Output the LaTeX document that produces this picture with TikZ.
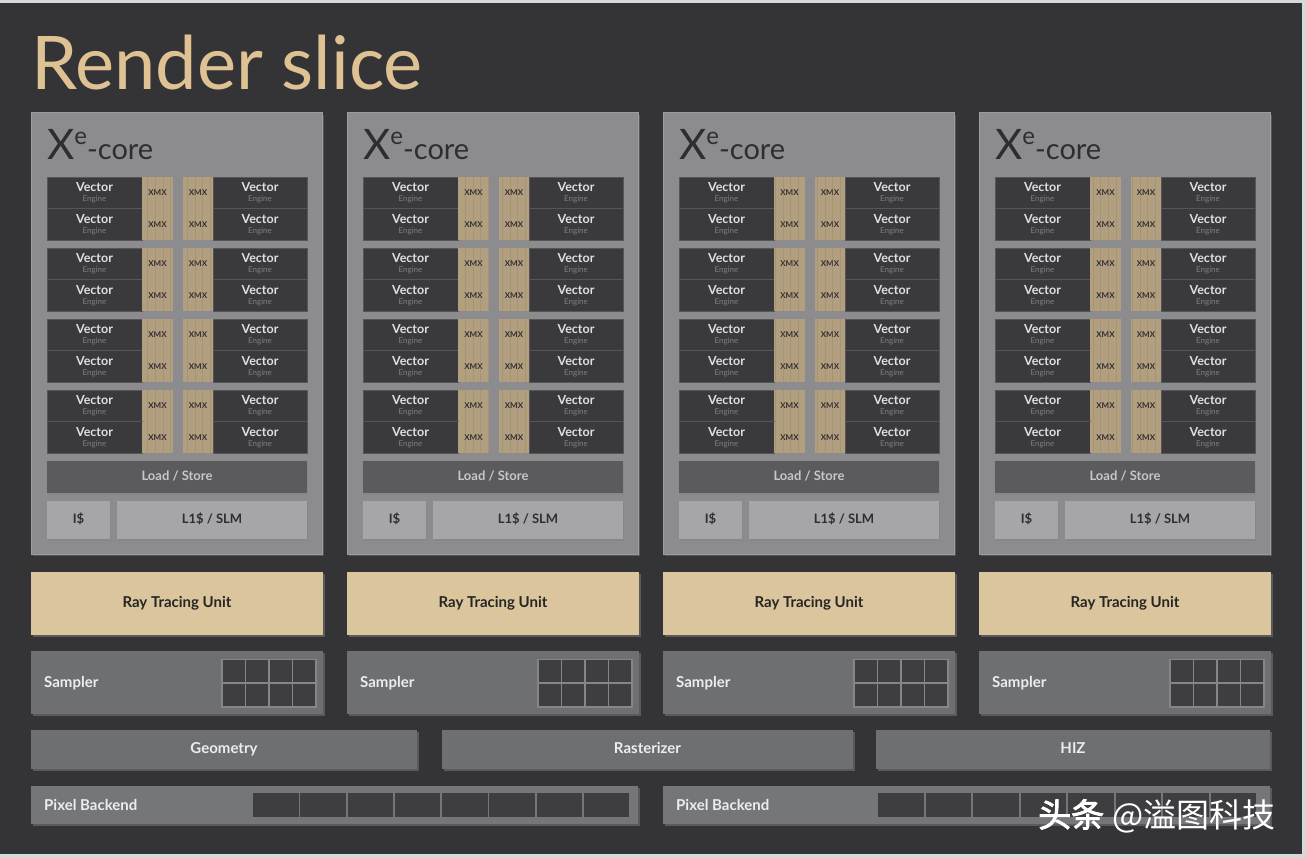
\documentclass[tikz,border=0pt]{standalone}
\usepackage{fontspec}
\setmainfont{Lato}
\newfontfamily\cjk{Noto Sans CJK SC}
\newfontfamily\cjkbold[FakeBold=2.5]{Noto Sans CJK SC}
\usetikzlibrary{shadows}
\definecolor{rim}{HTML}{D8D8D8}
\definecolor{panel}{HTML}{343436}
\definecolor{gold}{HTML}{DFC293}
\definecolor{coregray}{HTML}{8C8C8E}
\definecolor{coreedge}{HTML}{9C9C9E}
\definecolor{coretext}{HTML}{2E2E30}
\definecolor{vecdark}{HTML}{3A3A3D}
\definecolor{vecline}{HTML}{55555A}
\definecolor{xmxtan}{HTML}{B29F80}
\definecolor{xmxline}{HTML}{8E7C60}
\definecolor{lsgray}{HTML}{5B5B5E}
\definecolor{cachegray}{HTML}{A6A6A8}
\definecolor{rttan}{HTML}{DBC59C}
\definecolor{unitgray}{HTML}{6E6F73}
\definecolor{cellgray}{HTML}{3E3E41}
\definecolor{cellgap}{HTML}{85858A}

\begin{document}
\begin{tikzpicture}[x=1pt,y=-1pt,
		box/.style={anchor=north west,inner sep=0pt,outer sep=0pt},
		core/.style={box,fill=coregray,draw=coreedge,line width=1pt,
			drop shadow={shadow xshift=2pt,shadow yshift=-2pt,opacity=.45}},
		vec/.style={box,fill=vecdark,draw=vecline,line width=.6pt,
			minimum width=95,minimum height=31.5,align=center,
			font=\bfseries\fontsize{12.5}{11}\selectfont,text=white!88!black},
		xmx/.style={box,fill=xmxtan,minimum width=31,minimum height=31.5,
			font=\bfseries\fontsize{8}{8}\selectfont,text=coretext},
		loadstore/.style={box,fill=lsgray,minimum width=260,minimum height=32,
			text height=9.5pt,text depth=2.5pt,
			font=\bfseries\fontsize{13}{13}\selectfont,text=white!78!black,
			drop shadow={shadow xshift=1pt,shadow yshift=-1.5pt,opacity=.35}},
		cache/.style={box,fill=cachegray,minimum height=38,
			text height=9.5pt,text depth=2.5pt,
			font=\bfseries\fontsize{13}{13}\selectfont,text=coretext,
			drop shadow={shadow xshift=1pt,shadow yshift=-1.5pt,opacity=.35}},
		rtu/.style={box,fill=rttan,minimum width=292,minimum height=63,
			text height=11pt,text depth=3pt,
			font=\bfseries\fontsize{15}{15}\selectfont,text=black!85,
			drop shadow={shadow xshift=2pt,shadow yshift=-2pt,opacity=.5}},
		unit/.style={box,fill=unitgray,minimum height=39,
			text height=11pt,text depth=3pt,
			font=\bfseries\fontsize{15}{15}\selectfont,text=white!93!black,
			drop shadow={shadow xshift=2pt,shadow yshift=-2pt,opacity=.5}},
		label/.style={anchor=west,inner sep=0pt,
			font=\bfseries\fontsize{15}{15}\selectfont,text=white!93!black},
		cell/.style={box,fill=cellgray}]
	% frame and panel
	\fill[rim] (0,0) rectangle (1306,858);
	\fill[panel] (0,3) rectangle (1302,854);
	\useasboundingbox (0,0) rectangle (1306,858);
	\node[anchor=base west,inner sep=0pt,text=gold,
		font=\fontsize{74}{74}\selectfont] (title) at (31,90) {Render slice};
	\foreach \i in {1,...,4}{
		\pgfmathsetmacro\ox{316*(\i-1)}
		\node[core,minimum width=291,minimum height=441] (core\i) at ({31+\ox},113) {};
		\node[anchor=base west,inner sep=0pt,text=coretext] (xe\i) at ({47+\ox},160)
			{\fontsize{42}{42}\selectfont X\raisebox{15pt}{\fontsize{24}{24}\selectfont e}\fontsize{29}{29}\selectfont-core};
		% vector engines and XMX
		\foreach \g in {0,...,3}{
			\foreach \r in {0,1}{
				\pgfmathsetmacro\oy{177+71*\g+31.5*\r}
				\node[vec] (vl\i\g\r) at ({47+\ox},\oy) {Vector\\[-1pt]{\mdseries\fontsize{8}{8}\selectfont\color{white!50!black}Engine}};
				\node[vec,minimum width=94] (vr\i\g\r) at ({213+\ox},\oy) {Vector\\[-1pt]{\mdseries\fontsize{8}{8}\selectfont\color{white!50!black}Engine}};
				\node[xmx] (xa\i\g\r) at ({142+\ox},\oy) {XMX};
				\node[xmx,minimum width=30] (xb\i\g\r) at ({183+\ox},\oy) {XMX};
				\draw[xmxline,opacity=.3,line width=.4pt,xstep=7.75,ystep=7.875]
					(xa\i\g\r.north west) grid (xa\i\g\r.south east);
				\draw[xmxline,opacity=.3,line width=.4pt,xstep=7.5,ystep=7.875]
					(xb\i\g\r.north west) grid (xb\i\g\r.south east);
			}
		}
		\node[loadstore] (ls\i) at ({47+\ox},461) {Load / Store};
		\node[cache,minimum width=63] (is\i) at ({47+\ox},501) {I\$};
		\node[cache,minimum width=190] (l1\i) at ({117+\ox},501) {L1\$ / SLM};
		\node[rtu] (rt\i) at ({31+\ox},572) {Ray Tracing Unit};
		\node[unit,minimum width=292,minimum height=63] (smp\i) at ({31+\ox},651) {};
		\node[label] (smplabel\i) at ({44+\ox},683) {Sampler};
		\node[box,fill=cellgap,minimum width=96,minimum height=49] (smpgrid\i) at ({221+\ox},658.5) {};
		\foreach \c in {0,...,3}{
			\foreach \r in {0,1}{
				\node[cell,minimum width=22,minimum height=22] (sc\i\c\r) at ({222.5+\ox+23.5*\c},{660+24*\r}) {};
			}
		}
	}
	% shared units
	\node[unit,minimum width=386] (geom) at (31,730) {Geometry};
	\node[unit,minimum width=411] (rast) at (442,730) {Rasterizer};
	\node[unit,minimum width=394] (hiz) at (876,730) {HIZ};
	\node[unit,fill=unitgray!95!white,minimum width=607,minimum height=38] (pb1) at (31,786) {};
	\node[label] (pblabel1) at (44,805) {Pixel Backend};
	\node[unit,fill=unitgray!95!white,minimum width=607,minimum height=38] (pb2) at (663,786) {};
	\node[label] (pblabel2) at (676,805) {Pixel Backend};
	\foreach \k in {0,...,7}{
		\node[cell,minimum width=45.5,minimum height=24] (pa\k) at ({253+47.25*\k},793) {};
		\node[cell,minimum width=45.5,minimum height=24] (pc\k) at ({878+47.5*\k},793) {};
	}
	% watermark
	\node[anchor=west,inner sep=0pt,text=white,font=\fontsize{33}{33}\selectfont] (mark) at (1038,816)
		{{\cjkbold 头条} \cjk @溢图科技};
\end{tikzpicture}
\end{document}
